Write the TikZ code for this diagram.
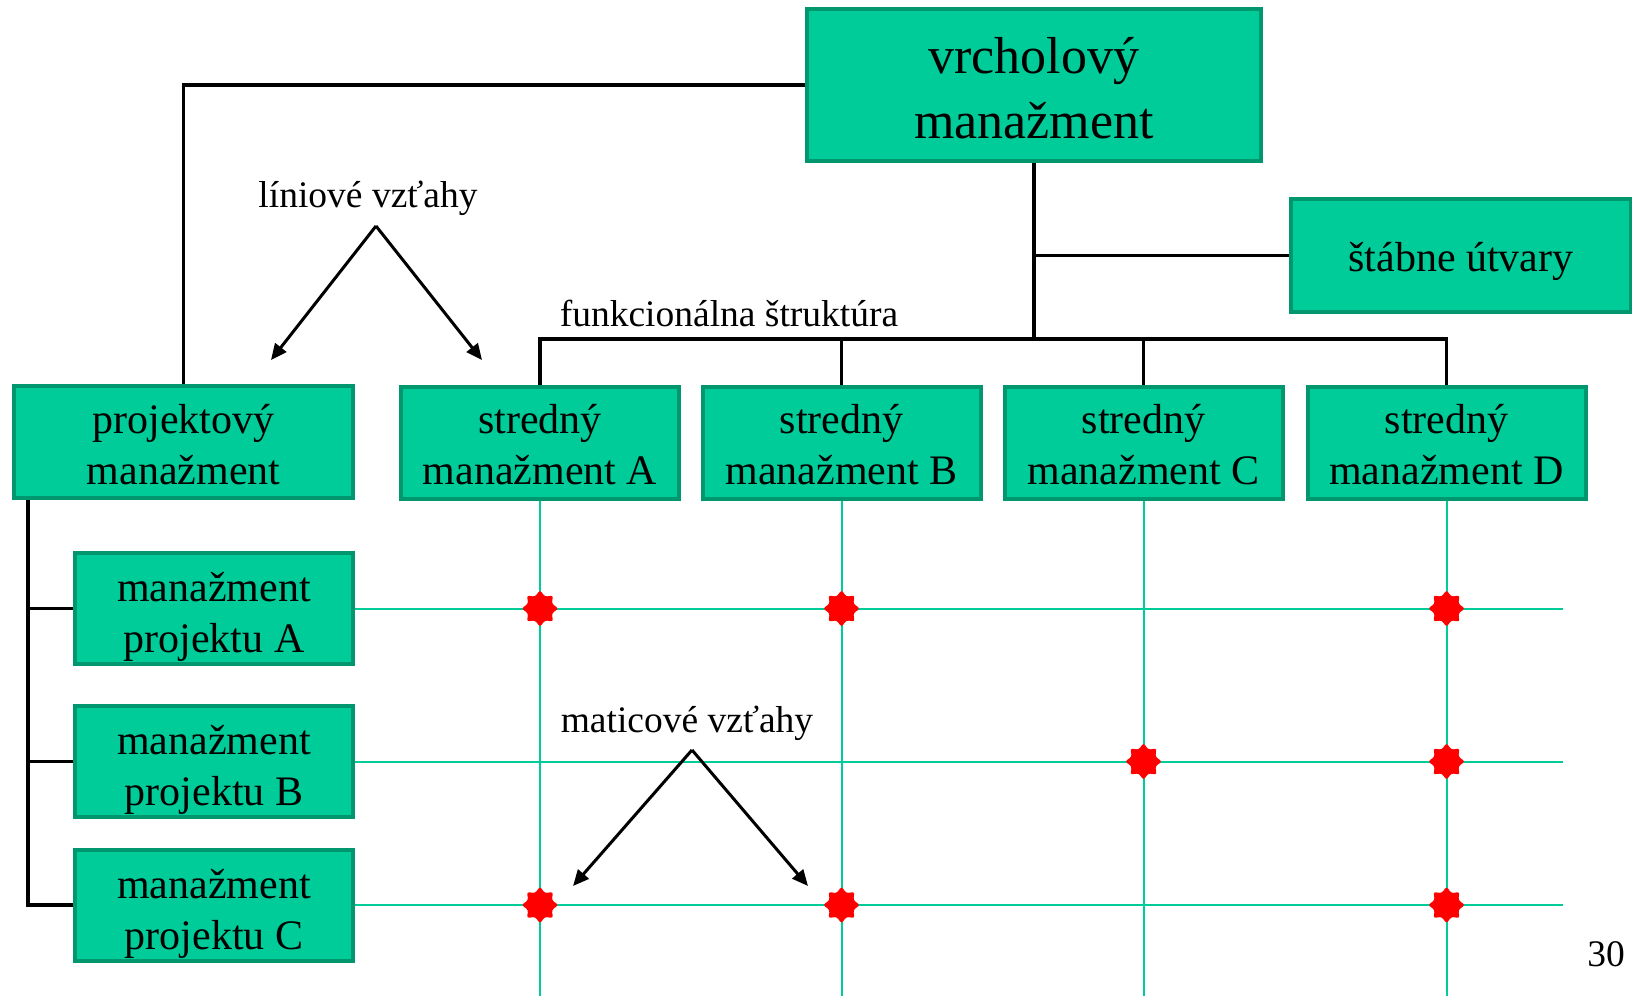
\documentclass[tikz,border=0pt]{standalone}
\usepackage{fontspec}
\setmainfont{Liberation Serif}
\usetikzlibrary{arrows.meta,shapes.geometric}
\definecolor{boxfill}{RGB}{0,204,153}
\definecolor{boxline}{RGB}{0,150,110}
\definecolor{gridline}{RGB}{0,204,153}
\definecolor{starred}{RGB}{255,0,0}
\begin{document}
\begin{tikzpicture}[x=1pt,y=-1pt,
  box/.style={draw=boxline, fill=boxfill, line width=4pt,
    inner sep=0pt, minimum width=278pt, minimum height=111pt},
  btxt/.style={align=center, inner sep=0pt, yshift=-2.5pt,
    font=\fontsize{42}{51}\selectfont},
  ptxt/.style={btxt, yshift=-6pt},
  link/.style={line width=3.5pt, black},
  gridln/.style={line width=2pt, gridline},
  hit/.style={star, star points=8, star point ratio=1.45, minimum size=37pt,
    inner sep=0pt, fill=starred, rounded corners=2.5pt},
  lbl/.style={font=\fontsize{37.5}{44}\selectfont, inner sep=0pt, anchor=base},
  pointer/.style={line width=3pt, -{Triangle[length=16pt,width=14pt]}}]

\useasboundingbox (0,0) rectangle (1632,996);

% top level and staff units
\node[box, minimum width=454pt, minimum height=152pt,
  label={[btxt, yshift=-0.5pt, font=\fontsize{52}{65}\selectfont]center:{vrcholový\\manažment}}]
  (top) at (1034,85) {};
\node[box, minimum width=340pt, minimum height=113pt,
  label={[btxt, yshift=-3pt]center:{štábne útvary}}] (staff) at (1461,255.5) {};

% project management branch
\node[box, minimum width=339pt, minimum height=112pt,
  label={[btxt]center:{projektový\\manažment}}] (proj) at (183.5,442) {};
\node[box, label={[ptxt]center:{manažment\\projektu A}}] (pA) at (214,608.5) {};
\node[box, label={[ptxt]center:{manažment\\projektu B}}] (pB) at (214,761.5) {};
\node[box, label={[ptxt]center:{manažment\\projektu C}}] (pC) at (214,905) {};

% functional middle management
\node[box, minimum height=112pt, label={[btxt]center:{stredný\\manažment A}}] (mA) at (540,442.5) {};
\node[box, minimum height=112pt, label={[btxt]center:{stredný\\manažment B}}] (mB) at (841.5,442.5) {};
\node[box, minimum height=112pt, label={[btxt]center:{stredný\\manažment C}}] (mC) at (1143.5,442.5) {};
\node[box, minimum height=112pt, label={[btxt]center:{stredný\\manažment D}}] (mD) at (1446.5,442.5) {};

% matrix grid
\coordinate (gE) at (1563,0);
\coordinate (gS) at (0,996);
\foreach \p in {pA,pB,pC}
  \draw[gridln] (\p.east) -- (\p.east -| gE);
\foreach \m in {mA,mB,mC,mD}
  \draw[gridln] (\m.south) -- (\m.south |- gS);

% line relations
\coordinate (bus) at (0,339);
\coordinate (staffjoin) at (top.south |- staff.west);
\draw[link] (top.south) -- (top.south |- bus);
\draw[link] (staffjoin) -- (staff.west);
\draw[link] (mA.north) -- (mA.north |- bus) -- (mD.north |- bus) -- (mD.north);
\draw[link] (mB.north) -- (mB.north |- bus);
\draw[link] (mC.north) -- (mC.north |- bus);
\draw[link] (proj.north) |- (top.west);
\coordinate (rail) at (28,0);
\draw[link] (rail |- proj.south) |- (pC.west);
\draw[link] (rail |- pA.west) -- (pA.west);
\draw[link] (rail |- pB.west) -- (pB.west);

% matrix intersections
\node[hit] (s1) at (mA.south |- pA.east) {};
\node[hit] (s2) at (mB.south |- pA.east) {};
\node[hit] (s3) at (mD.south |- pA.east) {};
\node[hit] (s4) at (mC.south |- pB.east) {};
\node[hit] (s5) at (mD.south |- pB.east) {};
\node[hit] (s6) at (mA.south |- pC.east) {};
\node[hit] (s7) at (mB.south |- pC.east) {};
\node[hit] (s8) at (mD.south |- pC.east) {};

% labels and pointers
\node[lbl] (lin) at (368,207) {líniové vzťahy};
\coordinate (linTop) at (376,226);
\coordinate (linL) at (271,360);
\coordinate (linR) at (482,360);
\draw[pointer] (linTop) -- (linL);
\draw[pointer] (linTop) -- (linR);

\node[lbl] (func) at (729,326) {funkcionálna štruktúra};

\node[lbl] (mat) at (687,732) {maticové vzťahy};
\coordinate (matTop) at (692,750);
\coordinate (matL) at (573,886);
\coordinate (matR) at (808,886);
\draw[pointer] (matTop) -- (matL);
\draw[pointer] (matTop) -- (matR);

\node[lbl] (pg) at (1606,966) {30};
\end{tikzpicture}
\end{document}
